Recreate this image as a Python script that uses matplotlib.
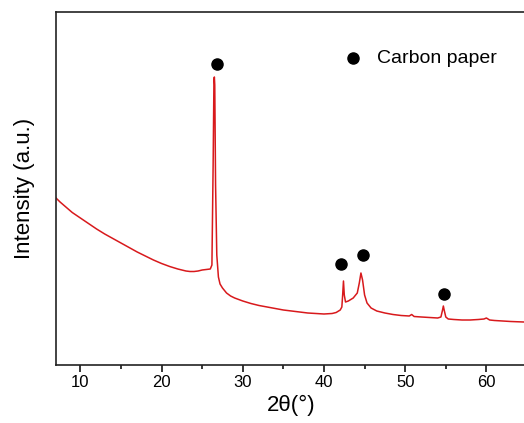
import matplotlib
matplotlib.use('Agg')
import matplotlib.pyplot as plt

plt.rcParams['font.family'] = ['Liberation Sans', 'DejaVu Sans']

# XRD pattern of carbon paper (intensity in arbitrary units)
two_theta = [7.0, 7.5, 8.0, 8.5, 9.0, 10.0, 11.0, 12.0, 13.0, 14.0, 15.0, 16.0,
             17.0, 18.0, 19.0, 20.0, 21.0, 22.0, 23.0, 23.5, 24.0, 24.5, 25.0,
             25.5, 26.0, 26.2, 26.35, 26.45, 26.5, 26.55, 26.65, 26.8, 27.0,
             27.2, 27.5, 28.0, 28.5, 29.0, 30.0, 31.0, 32.0, 33.0, 34.0, 35.0,
             36.0, 37.0, 38.0, 39.0, 40.0, 41.0, 41.5, 42.0, 42.2, 42.3, 42.4,
             42.5, 42.65, 43.0, 43.6, 44.1, 44.35, 44.55, 44.75, 45.0, 45.3,
             45.8, 46.5, 47.5, 48.5, 49.5, 50.5, 50.8, 51.1, 52.0, 53.0, 54.0,
             54.4, 54.6, 54.7, 54.8, 55.0, 55.3, 56.0, 57.0, 58.0, 59.0, 59.7,
             60.0, 60.4, 61.0, 62.0, 63.0, 64.6]
intensity = [167, 163, 159.5, 156, 152.5, 147, 141.5, 136, 131, 126.5, 122, 117.5,
             113, 109, 105, 101.5, 98.5, 96, 94, 93.5, 93.5, 94, 95,
             95.5, 96, 100, 200, 285, 288, 280, 180, 110, 88,
             81, 77, 72, 69, 67, 64, 61.5, 59.5, 58, 56.5, 55,
             54, 53, 52, 51.5, 51, 51.5, 52.5, 55, 58, 70, 84,
             70, 63, 64, 67, 72, 82, 92, 85, 70, 62,
             57, 54, 52, 50.5, 49.5, 49, 50.5, 48.5, 48, 47.5, 47,
             48, 55, 59, 55, 48, 46, 45.5, 45, 45, 45.5, 46,
             47, 45, 44.5, 44, 43.5, 43]

# peaks marked as carbon paper reflections
mark_x = [26.8, 42.1, 44.8, 54.75]
mark_y = [301, 101, 110, 71]

fig = plt.figure(figsize=(5.24, 4.23), dpi=100)
ax = fig.add_axes([56 / 524, 58 / 423, 471 / 524, 352.7 / 423])

ax.plot(two_theta, intensity, color='#d8191c', lw=1.1)
ax.scatter(mark_x, mark_y, s=64, color='black', zorder=3)

# legend entry
ax.scatter([43.6], [307], s=64, color='black')
ax.text(46.5, 307, 'Carbon paper', fontsize=14, va='center', ha='left')

ax.set_xlim(7, 65)
ax.set_ylim(0, 352.7)
ax.set_xticks([10, 20, 30, 40, 50, 60])
ax.set_xticks([15, 25, 35, 45, 55], minor=True)
ax.set_yticks([])
ax.tick_params(axis='x', which='major', direction='out', length=5, width=1.1,
               labelsize=12, pad=2, top=False)
ax.tick_params(axis='x', which='minor', direction='out', length=3, width=1.1, top=False)

for sp in ax.spines.values():
    sp.set_linewidth(1.2)
    sp.set_color('#222222')

ax.set_xlabel('2θ(°)', fontsize=16, labelpad=4)
ax.set_ylabel('Intensity (a.u.)', fontsize=16, labelpad=15)

fig.savefig('out.png', dpi=100)
